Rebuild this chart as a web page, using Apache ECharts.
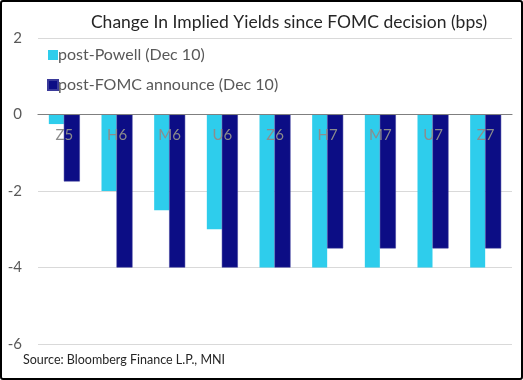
<!DOCTYPE html>
<html>
<head>
<meta charset="utf-8">
<script src="https://cdn.jsdelivr.net/npm/echarts@6/dist/echarts.min.js"></script>
<style>
html,body{margin:0;padding:0;background:#fff;}
#frame{position:absolute;left:0;top:0;width:523px;height:380px;box-sizing:border-box;border:2px solid #000;border-radius:3px;}
#c{position:absolute;left:0;top:0;width:523px;height:380px;}
</style>
</head>
<body>
<div id="c"></div>
<div id="frame"></div>
<script>
const categories = ['Z5','H6','M6','U6','Z6','H7','M7','U7','Z7'];
const postPowell = [-0.25,-2,-2.5,-3,-4,-4,-4,-4,-4];
const postFOMC = [-1.75,-4,-4,-4,-4,-3.5,-3.5,-3.5,-3.5];
const seriesNames = ['post-Powell (Dec 10)','post-FOMC announce (Dec 10)'];
const titleText = 'Change In Implied Yields since FOMC decision (bps)';
const sourceText = 'Source: Bloomberg Finance L.P., MNI';

const font = 'Lato, "Noto Sans", sans-serif';
const chart = echarts.init(document.getElementById('c'), null, {renderer:'canvas'});
chart.setOption({
  animation:false,
  backgroundColor:'#fff',
  title:[
    {text:titleText,left:284,top:8,textAlign:'center',textStyle:{fontFamily:font,fontSize:17.5,fontWeight:'normal',color:'#262626'}},
    {text:sourceText,left:18,top:348,textStyle:{fontFamily:font,fontSize:12.5,fontWeight:'normal',color:'#262626'}}
  ],
  legend:{
    orient:'vertical',left:42,top:42,itemGap:14,itemWidth:10,itemHeight:10,icon:'rect',
    textStyle:{fontFamily:font,fontSize:16,color:'#595959',padding:[0,0,0,-5]},
    data:seriesNames
  },
  grid:{left:38,right:11,top:38,bottom:36},
  xAxis:{
    type:'category',data:categories,position:'bottom',offset:-230,z:10,
    axisLine:{onZero:false,lineStyle:{color:'#7f7f7f',width:1.2}},
    axisTick:{show:false},
    axisLabel:{fontFamily:font,fontSize:15,color:'#8c8c8c',margin:14},
    splitLine:{show:false}
  },
  yAxis:{
    type:'value',min:-6,max:2,interval:2,
    axisLine:{show:false},axisTick:{show:false},
    axisLabel:{fontFamily:font,fontSize:15,color:'#595959',margin:16},
    splitLine:{lineStyle:{color:'#d9d9d9',width:1}}
  },
  series:[
    {name:seriesNames[0],type:'bar',data:postPowell,barWidth:15,barGap:'0%',itemStyle:{color:'#2ECDEC'}},
    {name:seriesNames[1],type:'bar',data:postFOMC,barWidth:16,barGap:'0%',itemStyle:{color:'#0C0D85',borderColor:'#3a3a9a',borderWidth:0.5}}
  ]
});
</script>
</body>
</html>
